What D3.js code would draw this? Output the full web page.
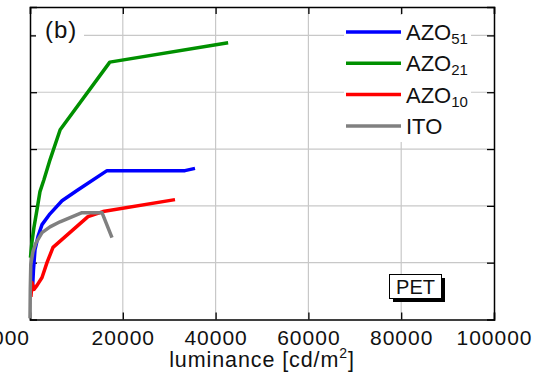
<!DOCTYPE html>
<html>
<head>
<meta charset="utf-8">
<script src="https://cdn.jsdelivr.net/npm/d3@7"></script>
<style>
  html, body { margin: 0; padding: 0; background: #fff; }
  svg { display: block; font-family: "Liberation Sans", Arial, sans-serif; }
</style>
</head>
<body>
<svg id="chart" width="548" height="373"></svg>
<script>
// Luminance (cd/m^2) against efficiency, panel (b): devices on PET
const seriesNames = ["AZO51", "AZO21", "AZO10", "ITO"];
const seriesColors = ["#0000ff", "#009000", "#ff0000", "#808080"];

const azo51Lum = [540, 750, 1080, 1720, 2590, 4310, 6900, 10130, 16600, 33400, 35560];
const azo51Eff = [5.3, 8.8, 12.3, 14.6, 16.7, 18.6, 20.9, 22.7, 26.2, 26.2, 26.6];

const azo21Lum = [100, 400, 850, 1500, 2150, 3000, 4310, 6500, 17200, 42700];
const azo21Eff = [10.9, 13.5, 16.2, 19.3, 22.5, 24.6, 28.1, 33.4, 45.3, 48.7];

const azo10Lum = [200, 430, 860, 1510, 2590, 3660, 4960, 12500, 15730, 31250];
const azo10Eff = [4.0, 6.5, 5.3, 6.0, 7.4, 10.0, 12.7, 18.1, 19.0, 21.1];

const itoLum = [0, 60, 170, 650, 1290, 2590, 4310, 6470, 11210, 15520, 17670];
const itoEff = [0.2, 5.3, 9.7, 12.0, 13.5, 15.3, 16.3, 17.2, 18.8, 18.8, 14.4];

const xTicks = [0, 20000, 40000, 60000, 80000, 100000];
const yTicks = [10, 20, 30, 40, 50];

const series = [
  { name: seriesNames[0], sub: "51", color: seriesColors[0], lum: azo51Lum, eff: azo51Eff },
  { name: seriesNames[1], sub: "21", color: seriesColors[1], lum: azo21Lum, eff: azo21Eff },
  { name: seriesNames[2], sub: "10", color: seriesColors[2], lum: azo10Lum, eff: azo10Eff },
  { name: seriesNames[3], sub: "",   color: seriesColors[3], lum: itoLum,   eff: itoEff }
];

const svg = d3.select("#chart");
const plotL = 30, plotR = 494, plotT = 7, plotB = 319.5;

const x = d3.scaleLinear().domain([0, 100000]).range([plotL, plotR]);
const y = d3.scaleLinear().domain([0, 55]).range([plotB, plotT]);

// grid
const grid = svg.append("g").attr("stroke", "#c8c8c8").attr("stroke-width", 1.2);
grid.selectAll("line.gx").data(xTicks.slice(1, -1)).join("line")
  .attr("class", "gx")
  .attr("x1", d => x(d)).attr("x2", d => x(d)).attr("y1", plotT).attr("y2", plotB);
grid.selectAll("line.gy").data(yTicks).join("line")
  .attr("class", "gy")
  .attr("x1", plotL).attr("x2", plotR).attr("y1", d => y(d)).attr("y2", d => y(d));

// axes with inward ticks on all four sides
const tickLen = 7;
const axB = d3.axisBottom(x).tickValues(xTicks).tickSize(-tickLen).tickFormat("");
const axT = d3.axisTop(x).tickValues(xTicks).tickSize(-tickLen).tickFormat("");
const axL = d3.axisLeft(y).tickValues(yTicks).tickSize(-tickLen).tickFormat("");
const axR = d3.axisRight(y).tickValues(yTicks).tickSize(-tickLen).tickFormat("");
[[axB, `translate(0,${plotB})`], [axT, `translate(0,${plotT})`],
 [axL, `translate(${plotL},0)`], [axR, `translate(${plotR},0)`]].forEach(([ax, tr]) => {
  const g = svg.append("g").attr("transform", tr).call(ax);
  g.select(".domain").attr("stroke", "#000").attr("stroke-width", 1.5);
  g.selectAll(".tick line").attr("stroke", "#000").attr("stroke-width", 1.3);
});

// x tick labels
const tickFont = 21;
svg.append("g").selectAll("text").data(xTicks.slice(1)).join("text")
  .attr("x", d => x(d) + 0.5).attr("y", 345)
  .attr("text-anchor", "middle")
  .attr("font-size", tickFont).attr("letter-spacing", "1px")
  .attr("fill", "#111")
  .text(d => d);
// end label of the neighbouring panel's axis
svg.append("text")
  .attr("x", plotL).attr("y", 345).attr("text-anchor", "end")
  .attr("font-size", tickFont).attr("letter-spacing", "1px").attr("fill", "#111")
  .text("100000");

// x axis title
const title = svg.append("text")
  .attr("x", (plotL + plotR) / 2).attr("y", 367)
  .attr("text-anchor", "middle").attr("font-size", 21.5)
  .attr("letter-spacing", "0.9px").attr("fill", "#111");
title.append("tspan").text("luminance [cd/m");
title.append("tspan").attr("font-size", 14).attr("dy", -9).text("2");
title.append("tspan").attr("dy", 9).text("]");

// panel tag
svg.append("rect").attr("x", 36).attr("y", 14).attr("width", 48).attr("height", 32).attr("fill", "#fff");
svg.append("text").attr("x", 45).attr("y", 38).attr("font-size", 24)
  .attr("letter-spacing", "1px").attr("fill", "#111").text("(b)");

// legend
svg.append("rect").attr("x", 344).attr("y", 15).attr("width", 127).attr("height", 127).attr("fill", "#fff");
const legend = svg.append("g");
series.forEach((s, i) => {
  const ly = 32 + i * 31.3;
  legend.append("line")
    .attr("x1", 346).attr("x2", 401).attr("y1", ly).attr("y2", ly)
    .attr("stroke", s.color).attr("stroke-width", 3.5);
  const t = legend.append("text").attr("x", 406).attr("y", ly + 8)
    .attr("font-size", 22).attr("fill", "#111");
  t.append("tspan").text(s.sub ? "AZO" : s.name);
  if (s.sub) t.append("tspan").attr("font-size", 15).attr("dy", 4).text(s.sub);
});

// curves
const line = d3.line().x(d => x(d[0])).y(d => y(d[1]));
svg.append("g").selectAll("path").data(series).join("path")
  .attr("d", s => line(s.lum.map((v, i) => [v, s.eff[i]])))
  .attr("fill", "none")
  .attr("stroke", s => s.color)
  .attr("stroke-width", 3.5)
  .attr("stroke-linejoin", "round");

// substrate label with drop shadow
svg.append("rect").attr("x", 393).attr("y", 278).attr("width", 52).attr("height", 24).attr("fill", "#000");
svg.append("rect").attr("x", 389.5).attr("y", 274.5).attr("width", 52).attr("height", 24)
  .attr("fill", "#fff").attr("stroke", "#000").attr("stroke-width", 1);
svg.append("text").attr("x", 415.5).attr("y", 294).attr("text-anchor", "middle")
  .attr("font-size", 20).attr("fill", "#111").text("PET");
</script>
</body>
</html>
